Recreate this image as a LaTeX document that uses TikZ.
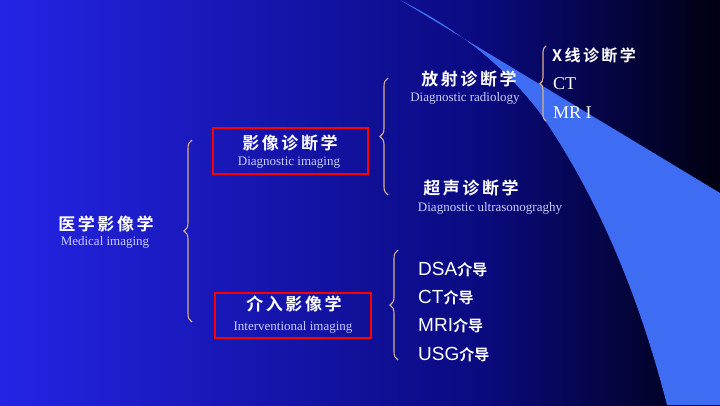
\documentclass[tikz,border=0pt]{standalone}
\usepackage{fontspec}
\setmainfont{Liberation Serif}
\newfontfamily\cjk{Noto Sans CJK SC Bold}
\newfontfamily\cjksp[LetterSpace=15]{Noto Sans CJK SC Bold}
\newfontfamily\sans{Liberation Sans}
\usetikzlibrary{decorations.pathreplacing}
\definecolor{bgL}{HTML}{2424E6}
\definecolor{bgM}{HTML}{0A0A80}
\definecolor{bgR}{HTML}{000010}
\definecolor{swoosh}{HTML}{3E6CF2}
\definecolor{lav}{HTML}{CCCCFF}
\definecolor{tan}{HTML}{D8B088}
\tikzset{
 zh/.style={text=white,font=\cjksp\fontsize{17}{17}\selectfont,inner sep=0pt},
 en/.style={text=lav,font=\fontsize{13}{13}\selectfont,inner sep=0pt},
 it/.style={text=white,font=\sans\fontsize{19}{19}\selectfont,inner sep=0pt,anchor=west},
 br/.style={draw=tan,line width=1.1pt,decorate,decoration={brace,amplitude=8pt}},
 rbox/.style={draw=red,line width=2pt}
}
\begin{document}
\begin{tikzpicture}[x=1pt,y=-1pt]
\useasboundingbox (0,0) rectangle (720,405);
\shade[left color=bgL,right color=bgM] (0,0) rectangle (480,405);
\shade[left color=bgM,right color=bgR] (480,0) rectangle (720,405);
\fill[swoosh] (400,0) -- (720,193) -- (720,405) -- (667,405)
  .. controls (640,300) and (600,200) .. (540,113) .. controls (500,60) and (450,25) .. (400,0);
% level 0
\node[zh] (m) at (106,224) {医学影像学};
\node[en] (me) at (105,242) {Medical imaging};
\coordinate (b1t) at (192,140); \coordinate (b1b) at (192,322);
\draw[br] (b1b) -- (b1t);
% level 1
\node[zh] (d) at (290,143) {影像诊断学};
\node[en] (de) at (289,163) {Diagnostic imaging};
\node[rbox,minimum width=155pt,minimum height=46pt] (db) at (290,151) {};
\node[zh] (i) at (294,304) {介入影像学};
\node[en] (ie) at (293,327) {Interventional imaging};
\node[rbox,minimum width=156pt,minimum height=45pt] (ib) at (293,315.5) {};
% radiology brace
\coordinate (b2t) at (388,78); \coordinate (b2b) at (388,195);
\draw[br] (b2b) -- (b2t);
\node[zh] (r) at (469,79) {放射诊断学};
\node[en] (re) at (465,98) {Diagnostic radiology};
\node[zh] (u) at (471,188) {超声诊断学};
\node[en] (ue) at (490,208) {Diagnostic ultrasonograghy};
\coordinate (b3t) at (546,46); \coordinate (b3b) at (546,121);
\draw[br,decoration={brace,amplitude=6pt}] (b3b) -- (b3t);
\node[zh,anchor=west,font=\cjksp\fontsize{16}{16}\selectfont] (x) at (552,55) {X线诊断学};
\node[en,text=white,font=\fontsize{18}{18}\selectfont,anchor=west] (ct) at (553,84) {CT};
\node[en,text=white,font=\fontsize{18}{18}\selectfont,anchor=west] (mr) at (553,113) {MR I};
% intervention brace
\coordinate (b4t) at (398,250); \coordinate (b4b) at (398,360);
\draw[br] (b4b) -- (b4t);
\node[it] (g1) at (418,270) {DSA{\cjk\fontsize{15}{15}\selectfont 介导}};
\node[it] (g2) at (418,298) {CT{\cjk\fontsize{15}{15}\selectfont 介导}};
\node[it] (g3) at (418,326) {MRI{\cjk\fontsize{15}{15}\selectfont 介导}};
\node[it] (g4) at (418,355) {USG{\cjk\fontsize{15}{15}\selectfont 介导}};
\end{tikzpicture}
\end{document}
